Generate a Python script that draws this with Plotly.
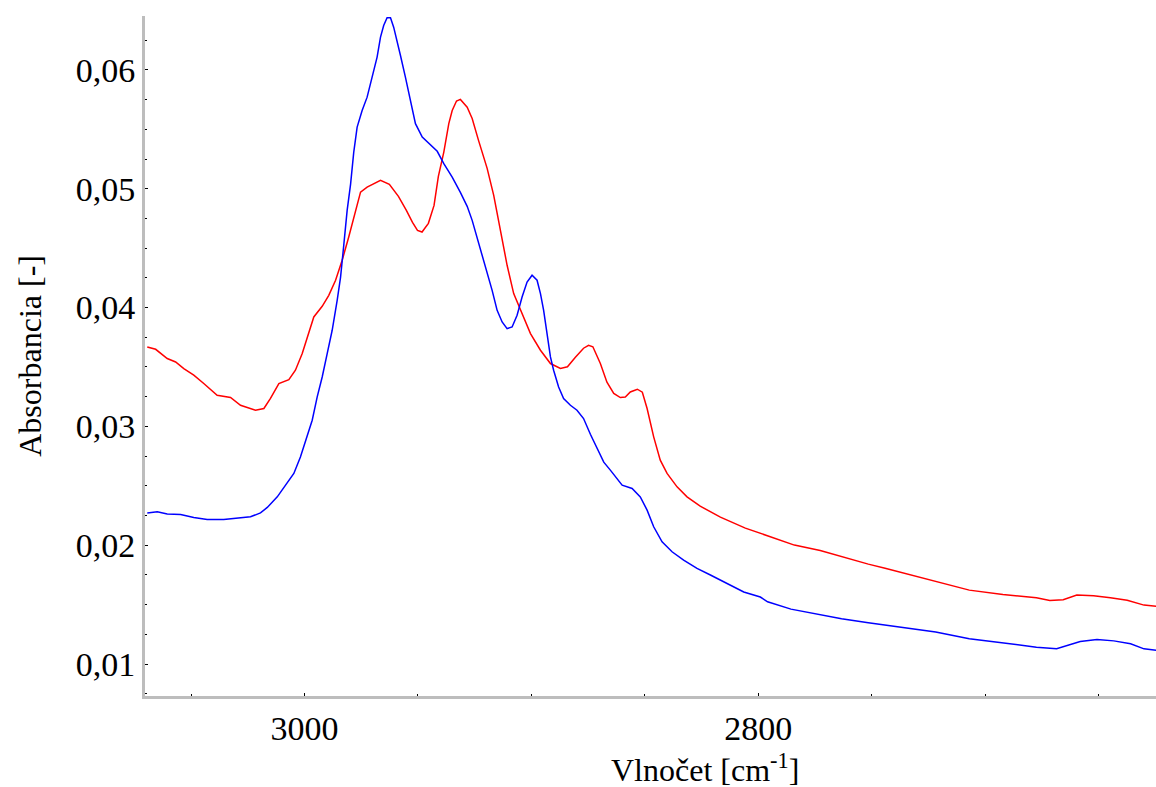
import plotly.graph_objects as go

# Wavenumber [cm-1] and absorbance
red_w = [3069.3, 3065.6, 3060.5, 3056.8, 3053.2, 3048.8, 3044.4, 3038.5, 3032.6, 3028.2,
         3021.6, 3017.9, 3015.0, 3011.3, 3006.9, 3004.0, 3001.0, 2998.8, 2995.9, 2992.2,
         2989.3, 2986.3, 2983.4, 2980.5, 2977.5, 2975.3, 2972.4, 2966.5, 2962.6, 2958.6,
         2955.1, 2952.4, 2950.2, 2948.2, 2945.4, 2942.9, 2941.0, 2938.6, 2936.4, 2934.9,
         2933.0, 2931.3, 2928.3, 2926.1, 2923.3, 2919.5, 2916.6, 2913.7, 2910.7, 2907.8,
         2904.8, 2900.4, 2896.0, 2891.6, 2887.2, 2884.1, 2880.6, 2877.0, 2874.8, 2872.9,
         2869.6, 2866.7, 2863.7, 2860.8, 2858.6, 2856.4, 2853.3, 2851.1, 2849.0, 2846.1,
         2843.2, 2840.2, 2835.8, 2831.4, 2825.6, 2816.7, 2805.7, 2796.0, 2784.1, 2772.7,
         2762.6, 2751.5, 2744.1, 2733.7, 2721.8, 2707.0, 2692.2, 2677.4, 2671.5, 2665.6,
         2659.6, 2652.2, 2644.8, 2637.4, 2630.0, 2623.8]
red_a = [0.03669, 0.03649, 0.03571, 0.03542, 0.03487, 0.03431, 0.03361, 0.03262, 0.03243, 0.03178,
         0.03136, 0.03151, 0.03235, 0.03361, 0.03394, 0.03473, 0.03613, 0.03753, 0.03921, 0.04011,
         0.04103, 0.04230, 0.04398, 0.04594, 0.04818, 0.04972, 0.05014, 0.05071, 0.05037, 0.04936,
         0.04818, 0.04717, 0.04650, 0.04636, 0.04709, 0.04860, 0.05104, 0.05309, 0.05548, 0.05659,
         0.05739, 0.05752, 0.05687, 0.05592, 0.05407, 0.05172, 0.04944, 0.04650, 0.04356, 0.04118,
         0.03977, 0.03781, 0.03641, 0.03529, 0.03487, 0.03502, 0.03582, 0.03658, 0.03683, 0.03670,
         0.03529, 0.03372, 0.03277, 0.03243, 0.03248, 0.03290, 0.03313, 0.03288, 0.03151, 0.02912,
         0.02716, 0.02604, 0.02491, 0.02407, 0.02329, 0.02236, 0.02144, 0.02077, 0.02001, 0.01955,
         0.01900, 0.01841, 0.01807, 0.01755, 0.01693, 0.01622, 0.01585, 0.01558, 0.01535, 0.01541,
         0.01580, 0.01574, 0.01558, 0.01537, 0.01496, 0.01484]

blue_w = [3069.3, 3064.9, 3060.5, 3054.6, 3048.8, 3042.9, 3035.6, 3029.6, 3023.8, 3019.4,
          3016.4, 3012.0, 3007.6, 3004.7, 3001.8, 2998.8, 2996.6, 2994.4, 2992.2, 2990.0,
          2987.8, 2985.6, 2984.1, 2982.7, 2981.2, 2979.7, 2978.3, 2976.8, 2974.6, 2972.4,
          2970.9, 2969.5, 2968.0, 2966.5, 2965.1, 2963.6, 2962.1, 2960.7, 2959.2, 2957.7,
          2955.5, 2953.3, 2951.1, 2948.1, 2944.5, 2941.5, 2938.6, 2934.9, 2931.3, 2928.3,
          2926.1, 2923.9, 2921.7, 2919.5, 2917.3, 2915.1, 2912.9, 2910.7, 2908.5, 2906.3,
          2904.1, 2901.9, 2899.7, 2897.5, 2896.0, 2894.6, 2893.1, 2891.6, 2890.2, 2888.0,
          2885.8, 2882.8, 2879.9, 2877.0, 2874.0, 2871.1, 2868.1, 2865.2, 2862.2, 2860.0,
          2855.6, 2852.0, 2849.0, 2846.1, 2842.4, 2838.0, 2832.9, 2827.0, 2821.1, 2813.8,
          2806.4, 2799.1, 2795.9, 2785.6, 2773.7, 2763.3, 2751.5, 2736.7, 2721.8, 2707.0,
          2692.2, 2677.4, 2668.5, 2662.6, 2658.1, 2650.7, 2643.3, 2635.9, 2630.0, 2623.8]
blue_a = [0.02272, 0.02281, 0.02262, 0.02259, 0.02234, 0.02217, 0.02217, 0.02230, 0.02239, 0.02272,
          0.02318, 0.02407, 0.02520, 0.02604, 0.02743, 0.02912, 0.03052, 0.03248, 0.03416, 0.03613,
          0.03809, 0.04061, 0.04257, 0.04524, 0.04818, 0.05037, 0.05306, 0.05519, 0.05659, 0.05771,
          0.05884, 0.05996, 0.06108, 0.06276, 0.06374, 0.06439, 0.06439, 0.06360, 0.06248, 0.06122,
          0.05937, 0.05735, 0.05548, 0.05435, 0.05365, 0.05315, 0.05211, 0.05098, 0.04970, 0.04852,
          0.04734, 0.04591, 0.04431, 0.04286, 0.04145, 0.03977, 0.03879, 0.03823, 0.03837, 0.03935,
          0.04089, 0.04215, 0.04272, 0.04230, 0.04118, 0.03977, 0.03781, 0.03585, 0.03473, 0.03332,
          0.03235, 0.03178, 0.03136, 0.03066, 0.02934, 0.02817, 0.02699, 0.02632, 0.02562, 0.02505,
          0.02478, 0.02407, 0.02295, 0.02155, 0.02029, 0.01945, 0.01875, 0.01805, 0.01749, 0.01679,
          0.01606, 0.01564, 0.01524, 0.01462, 0.01416, 0.01382, 0.01348, 0.01311, 0.01269, 0.01213,
          0.01178, 0.01142, 0.01128, 0.01161, 0.01190, 0.01207, 0.01195, 0.01170, 0.01128, 0.01114]

x_title = "Vlnočet [cm<sup>-1</sup>]"
y_title = "Absorbancia [-]"

FONT = "Liberation Serif, Times New Roman, serif"

fig = go.Figure()
fig.add_trace(go.Scatter(x=red_w, y=red_a, mode="lines",
                         line=dict(color="#ff0000", width=1.5), showlegend=False))
fig.add_trace(go.Scatter(x=blue_w, y=blue_a, mode="lines",
                         line=dict(color="#0000ff", width=1.5), showlegend=False))

axis_common = dict(
    showgrid=False, zeroline=False, showline=True, linecolor="#bdbdbd", linewidth=3,
    ticks="inside", ticklen=3, tickwidth=1, tickcolor="black",
    tickfont=dict(family=FONT, size=34, color="black"),
)

fig.update_xaxes(range=[3070.3, 2624.7], tick0=3000, dtick=200,
                 minor=dict(dtick=50, ticks="inside", ticklen=2, tickcolor="black"),
                 ticklabelstandoff=0, **axis_common)
fig.update_yaxes(range=[0.00731, 0.06454], tick0=0.01, dtick=0.01, tickformat=".2f",
                 minor=dict(dtick=0.0025, ticks="inside", ticklen=2, tickcolor="black"),
                 ticklabelstandoff=0, **axis_common)

fig.add_annotation(text=x_title, xref="paper", yref="paper", x=0.554, y=-0.106,
                   xanchor="center", yanchor="middle", showarrow=False,
                   font=dict(family=FONT, size=32, color="black"))
fig.add_annotation(text=y_title, xref="paper", yref="paper", x=-0.114, y=0.5,
                   xanchor="center", yanchor="middle", textangle=-90, showarrow=False,
                   font=dict(family=FONT, size=32, color="black"))

fig.update_layout(
    width=1156, height=787, separators=", ",
    margin=dict(l=145, r=0, t=16, b=91),
    paper_bgcolor="white", plot_bgcolor="white",
)

fig.write_html("out.html")
